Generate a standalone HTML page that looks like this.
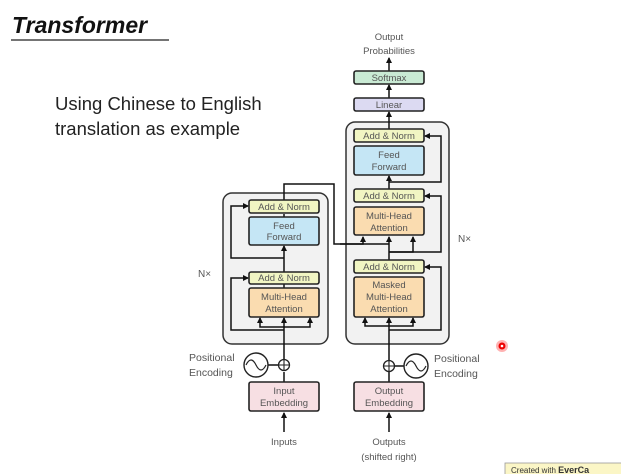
<!DOCTYPE html>
<html><head><style>
body{margin:0;background:#fff;width:621px;height:474px;overflow:hidden}
svg{display:block}
.t{font-family:"Liberation Sans",sans-serif;fill:#555;font-size:9.5px;text-anchor:middle}
.b{stroke:#222;stroke-width:1.6}
.l{stroke:#111;stroke-width:1.5;fill:none}
</style></head><body>
<svg width="621" height="474" viewBox="0 0 621 474">
<defs><marker id="a" markerWidth="6" markerHeight="6" refX="5" refY="3" orient="auto" markerUnits="userSpaceOnUse"><path d="M0,0L6,3L0,6z" fill="#111"/></marker></defs>
<text x="12" y="33" font-family="Liberation Sans,sans-serif" font-size="23" font-weight="bold" font-style="italic" fill="#111">Transformer</text>
<line x1="11" y1="40" x2="169" y2="40" stroke="#222" stroke-width="1.2"/>
<text x="55" y="110" font-family="Liberation Sans,sans-serif" font-size="18.5" fill="#222">Using Chinese to English</text>
<text x="55" y="135" font-family="Liberation Sans,sans-serif" font-size="18.5" fill="#222">translation as example</text>

<rect x="223" y="193" width="105" height="151" rx="9" fill="#f2f2f2" stroke="#333" stroke-width="1.5"/>
<rect x="346" y="122" width="103" height="222" rx="9" fill="#f2f2f2" stroke="#333" stroke-width="1.5"/>

<!-- connectors encoder -->
<path class="l" d="M284,411 V372" /><path class="l" d="M284,432 V413" marker-end="url(#a)"/>
<path class="l" d="M284,360 V318" marker-end="url(#a)"/>
<path class="l" d="M284,330 H231 V278 H248" marker-end="url(#a)"/>
<path class="l" d="M284,327 H260 V318" marker-end="url(#a)"/>
<path class="l" d="M284,327 H310 V318" marker-end="url(#a)"/>
<path class="l" d="M284,288 V246" marker-end="url(#a)"/>
<path class="l" d="M284,258 H231 V206 H248" marker-end="url(#a)"/>
<path class="l" d="M284,217 V214" />
<path class="l" d="M284,200 V184 H334 V244 H363 V237" marker-end="url(#a)"/>
<path class="l" d="M340,244 H389" />
<path class="l" d="M268,365 H279"/>
<!-- decoder -->
<path class="l" d="M389,432 V413" marker-end="url(#a)"/>
<path class="l" d="M389,382 V372"/>
<path class="l" d="M389,360 V318" marker-end="url(#a)"/>
<path class="l" d="M389,330 H441 V267 H425" marker-end="url(#a)"/>
<path class="l" d="M389,326 H365 V318" marker-end="url(#a)"/>
<path class="l" d="M389,326 H413 V318" marker-end="url(#a)"/>
<path class="l" d="M389,260 V237" marker-end="url(#a)"/>
<path class="l" d="M389,252 H413 V237" marker-end="url(#a)"/>
<path class="l" d="M389,252 H441 V196 H425" marker-end="url(#a)"/>
<path class="l" d="M389,189 V176" marker-end="url(#a)"/>
<path class="l" d="M389,182 H441 V136 H425" marker-end="url(#a)"/>
<path class="l" d="M389,129 V112" marker-end="url(#a)"/>
<path class="l" d="M389,98 V85" marker-end="url(#a)"/>
<path class="l" d="M389,71 V58" marker-end="url(#a)"/>
<path class="l" d="M394,366 H404"/>

<!-- encoder blocks -->
<rect class="b" x="249" y="200" width="70" height="13" rx="2" fill="#f1f5c3"/><text class="t" x="284" y="210">Add &amp; Norm</text>
<rect class="b" x="249" y="217" width="70" height="28" rx="2" fill="#c5e6f5"/><text class="t" x="284" y="229">Feed</text><text class="t" x="284" y="240">Forward</text>
<rect class="b" x="249" y="272" width="70" height="12" rx="2" fill="#f1f5c3"/><text class="t" x="284" y="281">Add &amp; Norm</text>
<rect class="b" x="249" y="288" width="70" height="29" rx="2" fill="#fadcb0"/><text class="t" x="284" y="300">Multi-Head</text><text class="t" x="284" y="312">Attention</text>
<rect class="b" x="249" y="382" width="70" height="29" rx="2" fill="#f7dfe3"/><text class="t" x="284" y="394">Input</text><text class="t" x="284" y="406">Embedding</text>
<!-- decoder blocks -->
<rect class="b" x="354" y="71" width="70" height="13" rx="2" fill="#c9ead4"/><text class="t" x="389" y="81">Softmax</text>
<rect class="b" x="354" y="98" width="70" height="13" rx="2" fill="#dcdaf2"/><text class="t" x="389" y="108">Linear</text>
<rect class="b" x="354" y="129" width="70" height="13" rx="2" fill="#f1f5c3"/><text class="t" x="389" y="139">Add &amp; Norm</text>
<rect class="b" x="354" y="146" width="70" height="29" rx="2" fill="#c5e6f5"/><text class="t" x="389" y="158">Feed</text><text class="t" x="389" y="170">Forward</text>
<rect class="b" x="354" y="189" width="70" height="13" rx="2" fill="#f1f5c3"/><text class="t" x="389" y="199">Add &amp; Norm</text>
<rect class="b" x="354" y="207" width="70" height="28" rx="2" fill="#fadcb0"/><text class="t" x="389" y="219">Multi-Head</text><text class="t" x="389" y="231">Attention</text>
<rect class="b" x="354" y="260" width="70" height="13" rx="2" fill="#f1f5c3"/><text class="t" x="389" y="270">Add &amp; Norm</text>
<rect class="b" x="354" y="277" width="70" height="40" rx="2" fill="#fadcb0"/><text class="t" x="389" y="288">Masked</text><text class="t" x="389" y="300">Multi-Head</text><text class="t" x="389" y="312">Attention</text>
<rect class="b" x="354" y="382" width="70" height="29" rx="2" fill="#f7dfe3"/><text class="t" x="389" y="394">Output</text><text class="t" x="389" y="406">Embedding</text>

<!-- positional -->
<circle cx="256" cy="365" r="12" fill="#fff" stroke="#222" stroke-width="1.4"/>
<path d="M246,365 q5,-10 10,0 t10,0" fill="none" stroke="#222" stroke-width="1.2"/>
<circle cx="284" cy="365" r="5.5" fill="#fff" stroke="#222" stroke-width="1.3"/><path d="M278.5,365h11M284,359.5v11" stroke="#222" stroke-width="1.1"/>
<circle cx="416" cy="366" r="12" fill="#fff" stroke="#222" stroke-width="1.4"/>
<path d="M406,366 q5,-10 10,0 t10,0" fill="none" stroke="#222" stroke-width="1.2"/>
<circle cx="389" cy="366" r="5.5" fill="#fff" stroke="#222" stroke-width="1.3"/><path d="M383.5,366h11M389,360.5v11" stroke="#222" stroke-width="1.1"/>

<g font-family="Liberation Sans,sans-serif" font-size="10.5" fill="#555">
<text x="189" y="361">Positional</text><text x="189" y="376">Encoding</text>
<text x="434" y="362">Positional</text><text x="434" y="377">Encoding</text>
<text x="198" y="277" font-size="10">N×</text><text x="458" y="242" font-size="10">N×</text>
</g>
<text class="t" x="389" y="40" font-size="10">Output</text>
<text class="t" x="389" y="54" font-size="10">Probabilities</text>
<text class="t" x="284" y="445" font-size="10.5">Inputs</text>
<text class="t" x="389" y="445" font-size="10.5">Outputs</text>
<text class="t" x="389" y="460" font-size="10.5">(shifted right)</text>

<circle cx="502" cy="346" r="6" fill="#f66" opacity="0.5"/><circle cx="502" cy="346" r="3.5" fill="#e00"/><circle cx="502" cy="346" r="1.3" fill="#fff"/>
<rect x="505" y="463" width="120" height="14" fill="#fbf6c6" stroke="#999" stroke-width="0.8"/>
<text x="511" y="473" font-family="Liberation Sans,sans-serif" font-size="8" fill="#333">Created with <tspan font-weight="bold" font-size="9">EverCa</tspan></text>
</svg>
</body></html>
